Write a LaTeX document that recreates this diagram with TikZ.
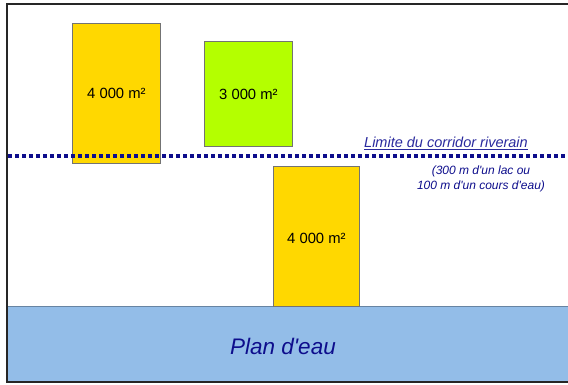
\documentclass[tikz,border=0pt]{standalone}
\usepackage{fontspec}
\setmainfont{Liberation Sans}
\definecolor{lot}{HTML}{FFD800}
\definecolor{lotvert}{HTML}{B4FF00}
\definecolor{eau}{HTML}{93BDE8}
\definecolor{marine}{HTML}{0D0D8C}
\definecolor{texte}{HTML}{2A2A9E}
\tikzset{
  parcelle/.style={draw=black!55, line width=0.8pt, inner sep=0pt},
  surface/.style={font=\fontsize{14.8}{17}\selectfont},
  limite/.style={draw=marine, line width=4.2pt, dash pattern=on 4.2pt off 2.8pt},
}

\begin{document}
\begin{tikzpicture}[x=1pt,y=-1pt]
    \useasboundingbox (0,0) rectangle (568,384);
    \fill[white] (0,0) rectangle (568,384);
    \node[parcelle, fill=eau, draw=black!30!eau, minimum width=562pt, minimum height=76pt, anchor=north west] (eau) at (7,306) {};
    \node[text=marine, font=\itshape\fontsize{22.5}{27}\selectfont] (planeau) at (283,346) {Plan d\textquotesingle eau};
    \node[parcelle, fill=lot, minimum width=88pt, minimum height=140pt, anchor=north west] (A) at (72,23) {};
    \node[surface] at (A) {4 000 m²};
    \node[parcelle, fill=lotvert, minimum width=88pt, minimum height=105pt, anchor=north west] (B) at (204,41) {};
    \node[surface] at (B) {3 000 m²};
    \node[parcelle, fill=lot, minimum width=86pt, minimum height=140pt, anchor=north west] (C) at (273,166) {};
    \node[surface] at ([yshift=-2pt]C) {4 000 m²};
    \coordinate (g) at (8,156);
    \coordinate (d) at (572,156);
    \draw[limite] (g) -- (d);
    \node[text=texte, font=\itshape\fontsize{14.5}{17}\selectfont] (titre) at (446,143) {\underline{Limite du corridor riverain}};
    \node[text=marine, font=\itshape\fontsize{12}{15.5}\selectfont, align=center] (note) at (481,179) {(300 m d\textquotesingle un lac ou\\100 m d\textquotesingle un cours d\textquotesingle eau)};
    \draw[black!85, line width=2pt] (572,4) -- (7,4) -- (7,382) -- (572,382);
\end{tikzpicture}
\end{document}
